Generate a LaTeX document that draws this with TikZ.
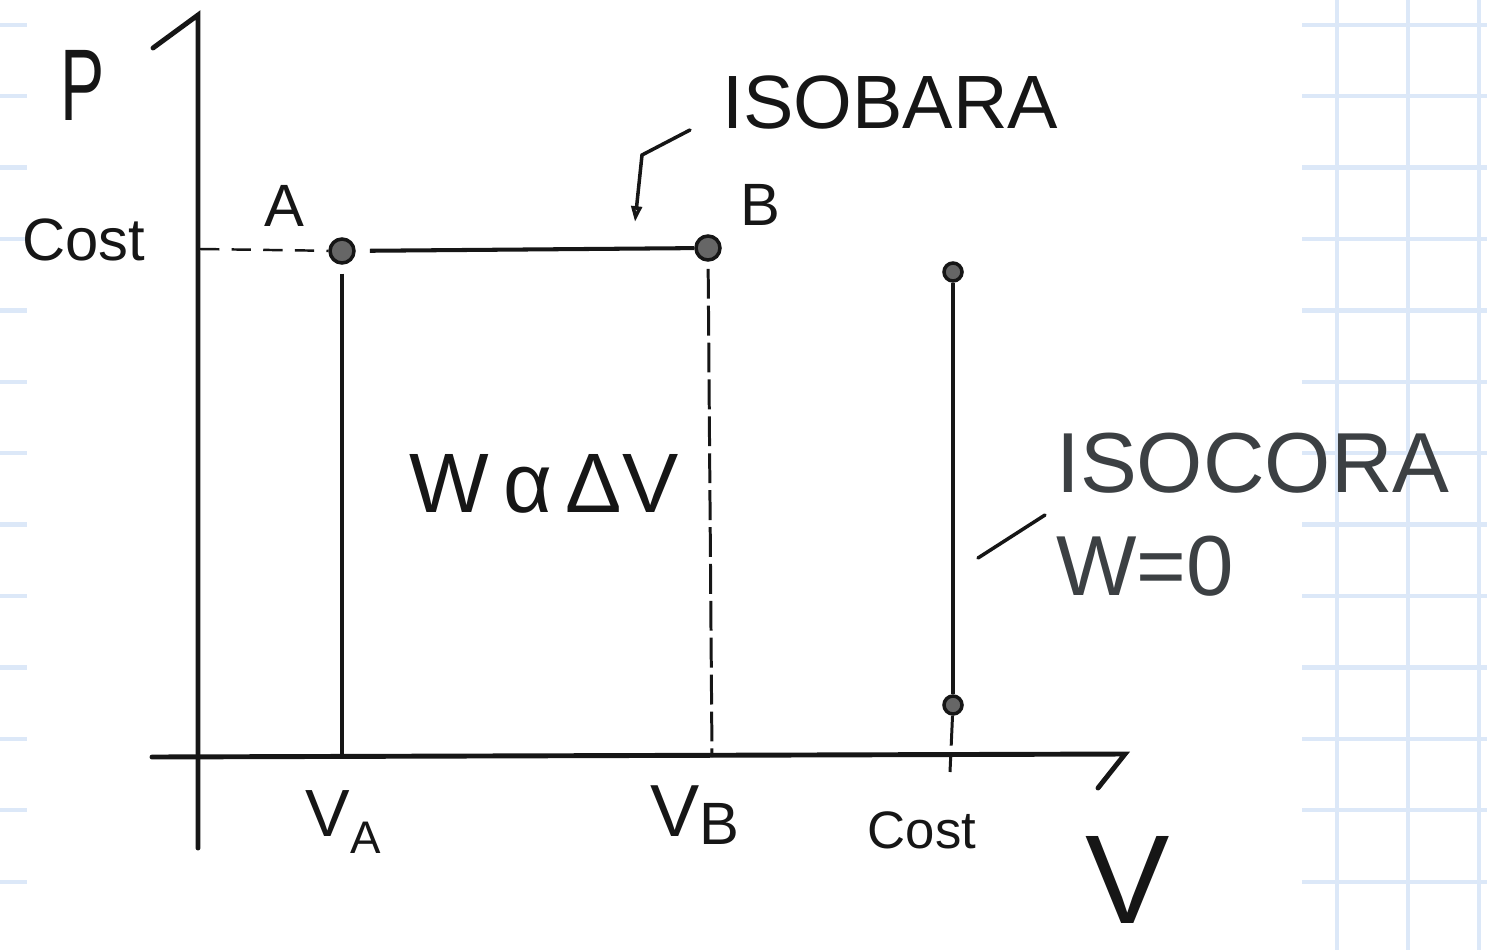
\documentclass[tikz,border=0pt]{standalone}
\usepackage{fontspec}
\setmainfont{Liberation Sans}
\usetikzlibrary{arrows.meta,positioning}
\usepackage{xcolor}
\definecolor{gridblue}{RGB}{220,232,248}
\definecolor{typed}{RGB}{60,64,67}
\definecolor{ink}{RGB}{22,22,22}

\tikzset{
  gridline/.style={gridblue, line width=2.4pt},
  axis/.style={ink, line width=2.8pt, line cap=round},
  isoline/.style={ink, line width=2.3pt},
  drop/.style={ink, line width=1.8pt},
  dropdash/.style={ink, line width=1.7pt, dash pattern=on 17pt off 4pt},
  costdash/.style={ink, line width=1.4pt, dash pattern=on 11pt off 7pt},
  pointer/.style={ink, line width=2pt, line cap=round},
  dot/.style={circle, fill=black!60, draw=ink, line width=2pt, inner sep=0pt, minimum size=0.48cm},
  smalldot/.style={dot, minimum size=0.36cm},
  hand/.style={text=ink, inner sep=0pt},
  typedtext/.style={text=typed, inner sep=0pt}
}

\begin{document}
\begin{tikzpicture}[x=0.02cm, y=-0.02cm]
\useasboundingbox (0,0) rectangle (1487,950);

% squared paper at the edges
\foreach \k in {0,...,13} {
  \draw[gridline] (0,24.8+71.4*\k) -- (27,24.8+71.4*\k);
  \draw[gridline] (1302,24.8+71.4*\k) -- (1487,24.8+71.4*\k);
}
\foreach \x in {1337,1408,1479}
  \draw[gridline] (\x,0) -- (\x,950);

% axes
\coordinate (ptop) at (198,15);
\coordinate (pbot) at (198,848);
\coordinate (phook) at (153,48);
\coordinate (vleft) at (152,757);
\coordinate (vend) at (1125,754);
\coordinate (vhook) at (1098,788);
\draw[axis] (pbot) -- (ptop) -- (phook);
\draw[axis] (vleft) -- (vend) -- (vhook);
\node[hand, font=\fontsize{58}{58}\selectfont, xscale=.65] (plab) at (83,85) {P};
\node[hand, font=\fontsize{72}{72}\selectfont] (vlab) at (1128,880) {V};

% points
\node[dot] (A) at (342,251) {};
\node[dot] (B) at (708,248) {};
\node[smalldot] (C1) at (953,272) {};
\node[smalldot] (C2) at (953,705) {};
\node[hand, font=\fontsize{34}{34}\selectfont] (alab) at (284,206) {A};
\node[hand, font=\fontsize{34}{34}\selectfont] (blab) at (760,205) {B};

% isobar
\coordinate (pcost) at (200,249);
\draw[costdash] (pcost) -- (A);
\draw[isoline, shorten <=8pt] (A) -- (B);
\node[hand, font=\fontsize{34}{34}\selectfont] (costp) at (84,240) {Cost};

% drops to the V axis
\coordinate (VA) at (342,757);
\coordinate (VB) at (712,757);
\coordinate (VC) at (950,772);
\draw[drop, shorten <=5pt] (A) -- (VA);
\draw[dropdash, shorten <=4pt] (B) -- (VB);
\draw[dropdash] (C2) -- (VC);
\node[hand, font=\fontsize{38}{38}\selectfont] (valab) at (343,822)
  {V\raisebox{-0.25em}{\fontsize{26}{26}\selectfont A}};
\node[hand, font=\fontsize{42}{42}\selectfont] (vblab) at (695,815)
  {V\raisebox{-0.1em}{\fontsize{34}{34}\selectfont B}};
\node[hand, font=\fontsize{30}{30}\selectfont] (costv) at (922,830) {Cost};

% isochore
\draw[isoline] (C1) -- (C2);

% work label
\node[hand, font=\fontsize{48}{48}\selectfont] (work) at (544,484) {W\,α\,ΔV};

% ISOBARA label and pointer
\node[hand, anchor=base west, font=\fontsize{43}{43}\selectfont] (isobara) at (722,128) {ISOBARA};
\coordinate (isob1) at (690,130);
\coordinate (isob2) at (642,155);
\coordinate (isob3) at (635,222);
\draw[pointer, -{Triangle[open, length=9pt, width=6pt]}] (isob1) -- (isob2) -- (isob3);

% ISOCORA label and pointer
\node[typedtext, anchor=base west, font=\fontsize{48.5}{48.5}\selectfont] (isocora) at (1056,492) {ISOCORA};
\node[typedtext, anchor=base west, font=\fontsize{48.5}{48.5}\selectfont] (wzero) at (1056,595) {W=0};
\coordinate (isoc1) at (978,558);
\coordinate (isoc2) at (1045,515);
\draw[pointer] (isoc1) -- (isoc2);
\end{tikzpicture}
\end{document}
